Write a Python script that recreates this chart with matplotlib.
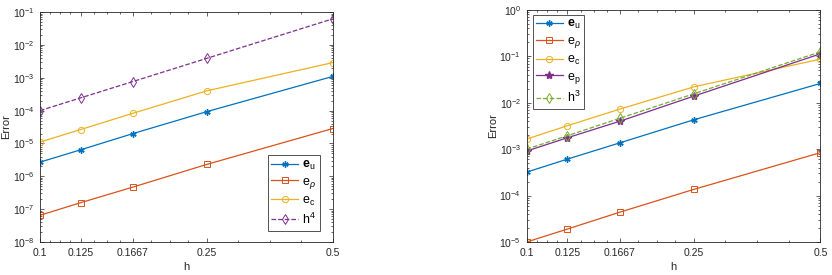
import numpy as np
import matplotlib.pyplot as plt
from matplotlib.ticker import FixedLocator, NullFormatter, LogLocator

plt.rcParams['font.family'] = ['Liberation Sans', 'DejaVu Sans']
plt.rcParams['mathtext.fontset'] = 'custom'
plt.rcParams['mathtext.rm'] = 'Liberation Sans'
plt.rcParams['mathtext.it'] = 'Liberation Sans:italic'
plt.rcParams['mathtext.bf'] = 'Liberation Sans:bold'

# mesh sizes
h = [0.1, 0.125, 0.1667, 0.25, 0.5]
h_labels = ['0.1', '0.125', '0.1667', '0.25', '0.5']

# left panel
eu_1 = [2.7e-6, 6.4e-6, 2.0e-5, 9.3e-5, 1.1e-3]
erho_1 = [6.5e-8, 1.57e-7, 4.7e-7, 2.3e-6, 2.85e-5]
ec_1 = [1.1e-5, 2.65e-5, 8.3e-5, 4.0e-4, 2.9e-3]
h4 = [1.0e-4, 2.44e-4, 7.7e-4, 3.9e-3, 6.25e-2]

# right panel
eu_2 = [3.2e-4, 6.1e-4, 1.37e-3, 4.3e-3, 2.6e-2]
erho_2 = [1.0e-5, 1.9e-5, 4.4e-5, 1.36e-4, 8.4e-4]
ec_2 = [1.65e-3, 3.2e-3, 7.3e-3, 2.2e-2, 8.7e-2]
ep_2 = [9.1e-4, 1.76e-3, 4.0e-3, 1.39e-2, 1.13e-1]
h3 = [1.0e-3, 1.95e-3, 4.63e-3, 1.56e-2, 1.25e-1]

C1, C2, C3, C4, C5 = '#0072BD', '#D95319', '#EDB120', '#7E2F8E', '#77AC30'
FS = 7.5
MS = 4.5
LW = 0.9
ASTERISK = (6, 2, 0)

fig = plt.figure(figsize=(8.32, 2.75), dpi=100)
ax1 = fig.add_axes([0.048, 0.12, 0.352, 0.836])
ax2 = fig.add_axes([0.633, 0.12, 0.353, 0.844])

# minor x ticks: split each gap between major ticks in log space
lh = np.log10(h)
minor_x = []
for a, b in zip(lh[:-1], lh[1:]):
    minor_x += list(10 ** np.linspace(a, b, 5)[1:-1])


def style(ax, ylo, yhi):
    ax.set_xscale('log')
    ax.set_yscale('log')
    ax.set_xlim(0.1, 0.5)
    ax.set_ylim(ylo, yhi)
    ax.xaxis.set_major_locator(FixedLocator(h))
    ax.set_xticklabels(h_labels)
    ax.xaxis.set_minor_locator(FixedLocator(minor_x))
    ax.xaxis.set_minor_formatter(NullFormatter())
    ax.yaxis.set_major_locator(LogLocator(base=10, numticks=20))
    ax.yaxis.set_minor_locator(LogLocator(base=10, subs=np.arange(2, 10), numticks=20))
    ax.yaxis.set_minor_formatter(NullFormatter())
    ax.tick_params(which='both', direction='in', top=True, right=True,
                   labelsize=FS, colors='#262626', width=0.5)
    ax.tick_params(which='major', length=3, pad=4)
    ax.tick_params(which='minor', length=1.5)
    for s in ax.spines.values():
        s.set_linewidth(0.6)
        s.set_color('#262626')
    ax.set_xlabel('h', fontsize=FS + 0.5, color='#262626', labelpad=3)
    ax.set_ylabel('Error', fontsize=FS + 0.5, color='#262626', labelpad=1)


def legend(ax, **kw):
    leg = ax.legend(fontsize=9, handlelength=2.1, fancybox=False,
                    edgecolor='#262626', borderpad=0.3, handletextpad=0.35,
                    borderaxespad=0, labelspacing=0.3, **kw)
    leg.get_frame().set_linewidth(0.7)


ax1.plot(h, eu_1, '-', marker=ASTERISK, color=C1, lw=LW, ms=MS, mew=1.0, label=r'$\mathbf{e}_{\rm u}$')
ax1.plot(h, erho_1, '-s', color=C2, lw=LW, ms=MS - 0.5, mfc='none', mew=0.7, label=r'e$_{\rho}$')
ax1.plot(h, ec_1, '-o', color=C3, lw=LW, ms=MS, mfc='none', mew=0.7, label=r'e$_{\rm c}$')
ax1.plot(h, h4, '--d', color=C4, lw=LW, ms=MS + 0.5, mfc='none', mew=0.7, label=r'h$^4$')
style(ax1, 1e-8, 1e-1)
legend(ax1, loc='lower right', bbox_to_anchor=(0.955, 0.05))

ax2.plot(h, eu_2, '-', marker=ASTERISK, color=C1, lw=LW, ms=MS, mew=1.0, label=r'$\mathbf{e}_{\rm u}$')
ax2.plot(h, erho_2, '-s', color=C2, lw=LW, ms=MS - 0.5, mfc='none', mew=0.7, label=r'e$_{\rho}$')
ax2.plot(h, ec_2, '-o', color=C3, lw=LW, ms=MS, mfc='none', mew=0.7, label=r'e$_{\rm c}$')
ax2.plot(h, ep_2, '-*', color=C4, lw=LW, ms=MS + 1.5, label=r'e$_{\rm p}$')
ax2.plot(h, h3, '--d', color=C5, lw=LW, ms=MS + 0.5, mfc='none', mew=0.7, label=r'h$^3$')
style(ax2, 1e-5, 1e0)
legend(ax2, loc='upper left', bbox_to_anchor=(0.02, 0.98))

plt.savefig('out.png', dpi=100)
